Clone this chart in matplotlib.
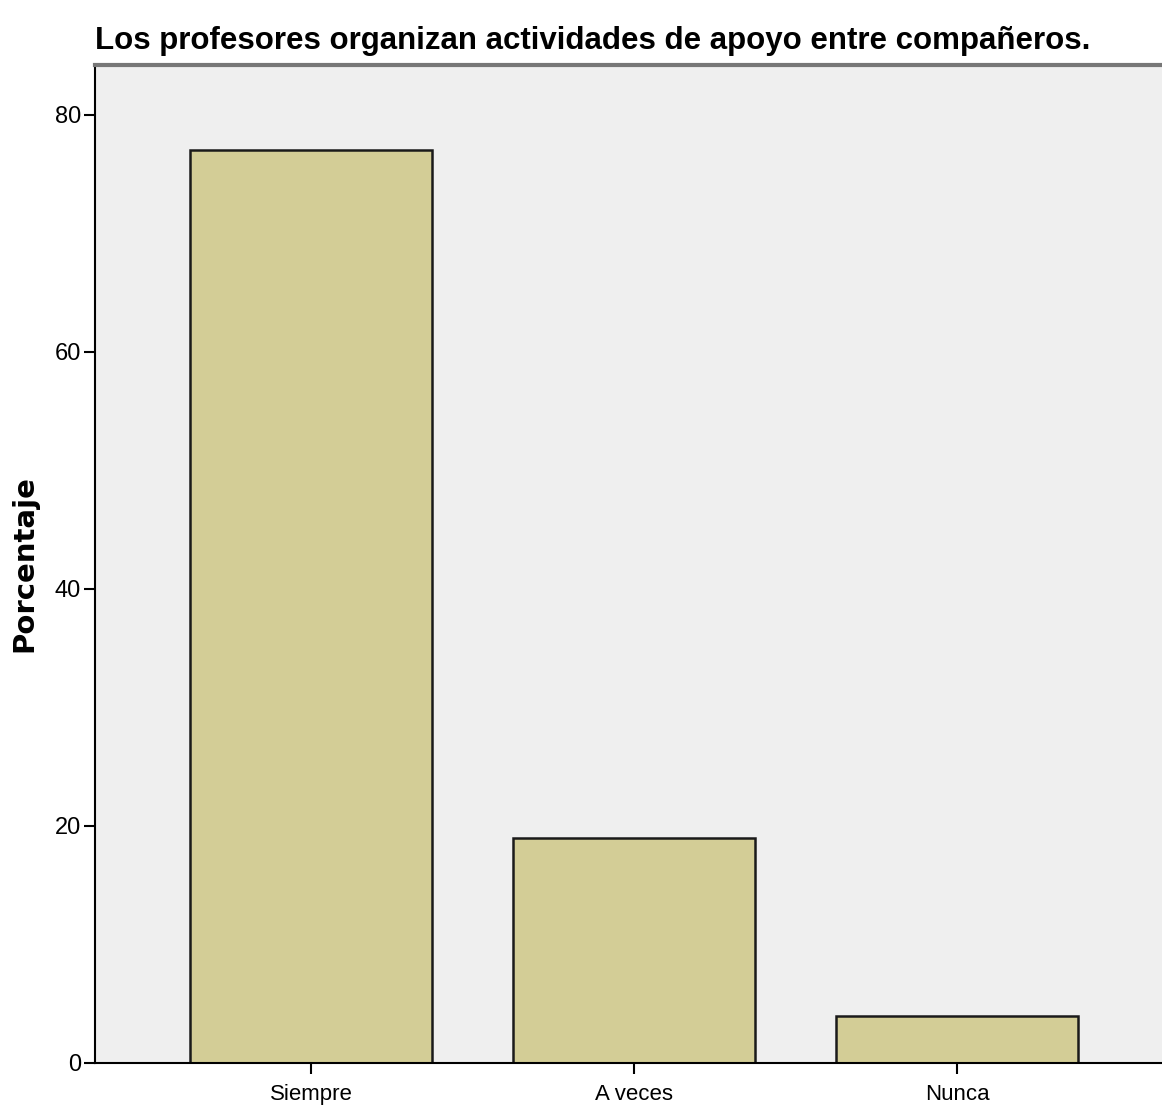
import matplotlib
matplotlib.use("Agg")
import matplotlib.pyplot as plt
from matplotlib import font_manager

# 数据
categories = ["Siempre", "A veces", "Nunca"]
percentages = [77.0, 19.0, 4.0]
yticks = [0, 20, 40, 60, 80]

names = {f.name for f in font_manager.fontManager.ttflist}
narrow = "Liberation Sans Narrow" if "Liberation Sans Narrow" in names else "Liberation Sans"

fig = plt.figure(figsize=(11.62, 11.09), dpi=100)
ax = fig.add_axes([0.0818, 0.0415, 0.9182, 0.8999])
ax.set_facecolor("#efefef")

x = list(range(len(categories)))
ax.bar(x, percentages, width=0.75, color="#d3cd96", edgecolor="#1a1a1a", linewidth=1.8)

ax.set_xlim(-0.669, 2.635)
ax.set_ylim(0, 84.2)
ax.set_xticks(x)
ax.set_xticklabels(categories, fontfamily=narrow, fontsize=16)
ax.set_yticks(yticks)
ax.set_yticklabels([str(v) for v in yticks], fontfamily=narrow, fontsize=17)
ax.tick_params(axis="x", length=8, width=1.5, pad=7)
ax.tick_params(axis="y", length=8, width=1.5, pad=2)

ax.spines["right"].set_visible(False)
ax.spines["top"].set_color("#777777")
ax.spines["top"].set_linewidth(3)
ax.spines["left"].set_linewidth(1.5)
ax.spines["bottom"].set_linewidth(1.5)

ax.set_ylabel("Porcentaje", fontfamily="DejaVu Sans", fontweight="bold", fontsize=21, labelpad=12)

fig.text(0.0818, 0.963, "Los profesores organizan actividades de apoyo entre compañeros.",
         fontfamily=narrow, fontweight="bold", fontsize=22.5, ha="left", va="center")

fig.savefig("out.png", dpi=100)
